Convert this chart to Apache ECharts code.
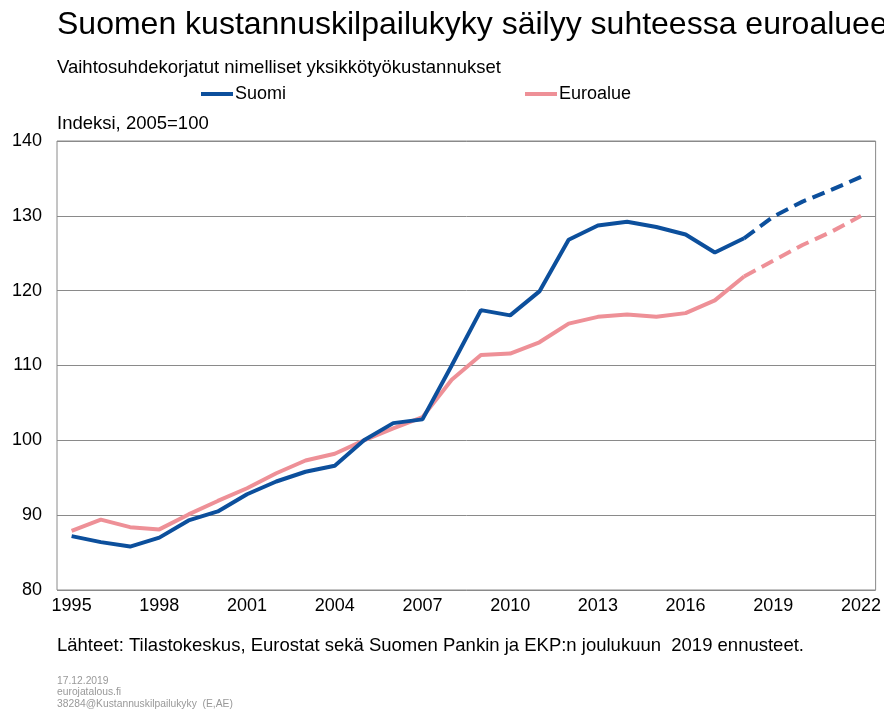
<!DOCTYPE html>
<html>
<head>
<meta charset="utf-8">
<script src="https://cdn.jsdelivr.net/npm/echarts@6/dist/echarts.min.js"></script>
<style>
  html, body { margin: 0; padding: 0; background: #fff; }
  #main { width: 884px; height: 709px; }
</style>
</head>
<body>
<div id="main"></div>
<script>
const years = ['1995','1996','1997','1998','1999','2000','2001','2002','2003','2004','2005','2006','2007','2008',
  '2009','2010','2011','2012','2013','2014','2015','2016','2017','2018','2019','2020','2021','2022'];
// toteutunut 1995-2018, ennuste 2018-2022
const suomi = [87.2, 86.4, 85.8, 87.0, 89.3, 90.5, 92.8, 94.5, 95.8, 96.6, 100.0, 102.3, 102.8, 110.0,
  117.4, 116.7, 119.9, 126.8, 128.7, 129.2, 128.5, 127.5, 125.1, 127.0, null, null, null, null];
const suomiEnnuste = [null, null, null, null, null, null, null, null, null, null, null, null, null, null,
  null, null, null, null, null, null, null, null, null, 127.0, 129.9, 131.9, 133.5, 135.2];
const euroalue = [87.9, 89.4, 88.4, 88.1, 90.1, 91.9, 93.6, 95.6, 97.3, 98.2, 100.0, 101.6, 103.1, 108.1,
  111.4, 111.6, 113.1, 115.6, 116.5, 116.8, 116.5, 117.0, 118.7, 121.9, null, null, null, null];
const euroalueEnnuste = [null, null, null, null, null, null, null, null, null, null, null, null, null, null,
  null, null, null, null, null, null, null, null, null, 121.9, 124.0, 126.1, 127.9, 130.0];

const BLUE = '#0c4f9c';
const PINK = '#ee9097';
const FONT = 'Liberation Sans';

let myChart = echarts.init(document.getElementById('main'));
let option = {
  animation: false,
  backgroundColor: '#fff',
  textStyle: { fontFamily: FONT },
  graphic: [
    { type: 'text', left: 57, top: 9, style: { text: 'Suomen kustannuskilpailukyky säilyy suhteessa euroalueeseen', fontSize: 32, fontFamily: FONT, fill: '#000' } },
    { type: 'text', left: 57, top: 58, style: { text: 'Vaihtosuhdekorjatut nimelliset yksikkötyökustannukset', fontSize: 18.5, fontFamily: FONT, fill: '#000' } },
    { type: 'text', left: 57, top: 114, style: { text: 'Indeksi, 2005=100', fontSize: 18.5, fontFamily: FONT, fill: '#000' } },
    { type: 'text', left: 57, top: 636, style: { text: 'Lähteet: Tilastokeskus, Eurostat sekä Suomen Pankin ja EKP:n joulukuun  2019 ennusteet.', fontSize: 18.5, fontFamily: FONT, fill: '#000' } },
    { type: 'text', left: 57, top: 675, style: { text: '17.12.2019\neurojatalous.fi\n38284@Kustannuskilpailukyky  (E,AE)', fontSize: 10.3, lineHeight: 11.5, fontFamily: FONT, fill: '#999' } }
  ],
  legend: [
    { left: 196, top: 80, data: ['Suomi'], icon: 'rect', itemWidth: 32, itemHeight: 4, itemGap: 2,
      textStyle: { fontSize: 18, color: '#000', fontFamily: FONT, padding: [0, 0, 0, -3] } },
    { left: 520, top: 80, data: ['Euroalue'], icon: 'rect', itemWidth: 32, itemHeight: 4, itemGap: 2,
      textStyle: { fontSize: 18, color: '#000', fontFamily: FONT, padding: [0, 0, 0, -3] } }
  ],
  grid: {
    left: 57, right: 7, top: 141, bottom: 119,
    show: true, borderColor: '#8a8a8a', borderWidth: 1
  },
  xAxis: {
    type: 'category',
    data: years,
    boundaryGap: true,
    axisLine: { show: false },
    axisTick: { show: false },
    axisLabel: {
      interval: 2, color: '#000', fontSize: 18, fontFamily: FONT, margin: 7
    },
    splitLine: { show: false }
  },
  yAxis: {
    type: 'value',
    min: 80, max: 140, interval: 10,
    axisLine: { show: false },
    axisTick: { show: false },
    axisLabel: { color: '#000', fontSize: 18, fontFamily: FONT, margin: 15 },
    splitLine: { lineStyle: { color: '#8a8a8a', width: 1 } }
  },
  series: [
    { name: 'Suomi', type: 'line', data: suomi, symbol: 'none', color: BLUE,
      lineStyle: { color: BLUE, width: 4 }, z: 3 },
    { name: 'Suomi, ennuste', type: 'line', data: suomiEnnuste, symbol: 'none', color: BLUE,
      lineStyle: { color: BLUE, width: 4, type: [13, 7] }, z: 3 },
    { name: 'Euroalue', type: 'line', data: euroalue, symbol: 'none', color: PINK,
      lineStyle: { color: PINK, width: 4 }, z: 2 },
    { name: 'Euroalue, ennuste', type: 'line', data: euroalueEnnuste, symbol: 'none', color: PINK,
      lineStyle: { color: PINK, width: 4, type: [13, 7] }, z: 2 }
  ]
};
myChart.setOption(option);
</script>
</body>
</html>
